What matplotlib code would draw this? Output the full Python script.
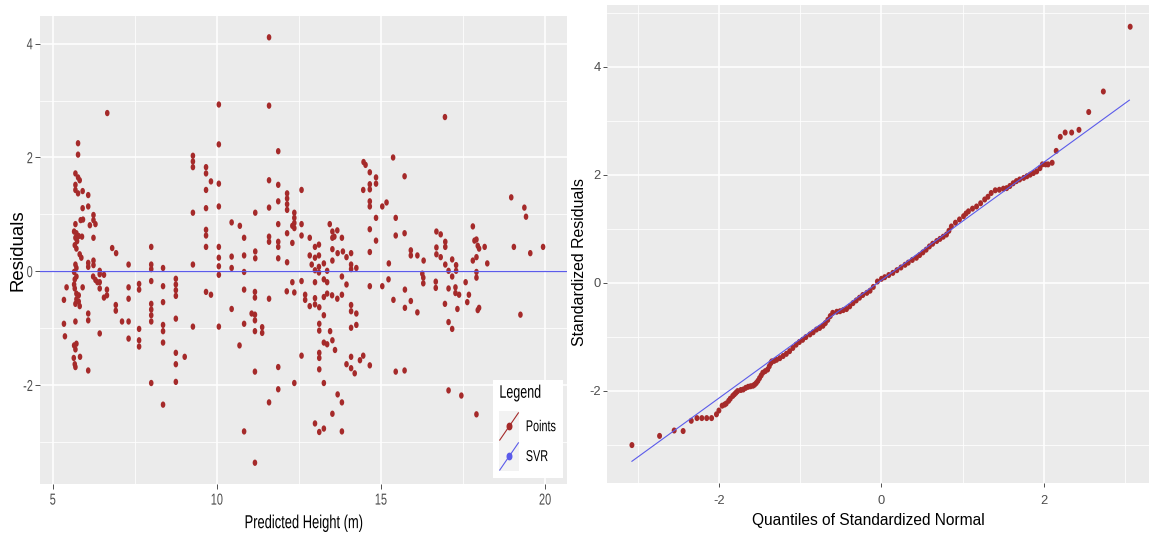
import matplotlib
matplotlib.use("Agg")
import matplotlib.pyplot as plt
import numpy as np
from matplotlib.legend_handler import HandlerBase
from matplotlib.lines import Line2D
from matplotlib.patches import Rectangle
from matplotlib.path import Path
from matplotlib.patheffects import AbstractPathEffect
from matplotlib.transforms import Affine2D

plt.rcParams['font.family'] = ['Liberation Sans', 'DejaVu Sans']
plt.rcParams['axes.unicode_minus'] = False

# ---- left panel: residuals vs predicted height ----
pred_height = [
    5.77, 5.77, 5.69, 5.77, 5.82, 5.69, 5.69, 5.77, 5.91, 6.08, 5.91, 6.08, 5.85, 5.92, 5.69,
    6.24, 6.24, 6.30, 6.13, 5.65, 5.72, 5.79, 5.89, 5.69, 5.74, 5.67, 5.72, 6.24, 5.82, 5.87,
    5.69, 5.72, 6.08, 6.08, 6.24, 6.24, 5.65, 6.43, 6.56, 6.23, 6.81, 6.93, 7.31, 8.00, 8.00,
    8.00, 8.36, 8.75, 9.27, 9.27, 9.27, 9.27, 9.27, 9.67, 9.67, 9.82, 9.67, 9.67, 9.67, 9.67,
    9.67, 10.06, 10.06, 10.06, 10.06, 10.06, 10.06, 10.06,
    11.59, 11.59, 10.06, 6.66, 11.87, 16.95,
    12.14, 12.14, 12.14, 12.14, 11.87, 11.59, 11.17, 12.58, 12.36, 12.36, 12.36, 12.36, 12.30,
    12.58, 11.87, 10.45, 10.70, 10.83, 11.59, 11.59, 11.87, 11.87, 12.14, 12.58, 12.83, 12.30,
    10.45, 10.83, 11.17, 11.17, 10.45, 10.83, 11.87, 12.14, 12.99, 13.11, 12.83, 12.99, 13.11,
    12.89, 12.99, 13.11, 13.11, 13.26, 13.36, 13.44, 13.52, 13.52, 13.67, 13.58, 13.81, 13.52,
    13.52, 13.68, 13.84, 13.95, 14.09, 14.09, 14.09, 14.25, 13.81, 14.47, 14.53, 14.66, 14.46,
    14.66, 14.66, 14.85, 14.85, 14.66, 14.66, 15.04, 15.17, 14.85, 14.66, 14.85, 14.66, 15.24,
    11.59, 11.87,
    15.37, 15.72, 15.45, 15.45, 15.72, 15.91, 15.91, 16.11, 16.30, 16.26, 16.69, 16.82, 16.96,
    16.96, 16.69, 16.69, 16.82, 16.96, 17.17, 17.29, 17.29, 17.06, 17.17, 17.80, 17.85, 17.91,
    17.95, 17.99, 18.16, 17.91, 17.80, 18.24, 17.91, 17.91, 18.97, 19.37, 19.42, 19.05, 19.55,
    19.94,
    5.72, 6.43, 6.30, 6.36, 6.43, 6.43, 5.67, 5.65, 5.67, 5.42, 5.91, 5.72, 5.79, 5.72, 5.79,
    5.69, 5.82, 5.34, 6.65, 6.65, 6.56, 6.92, 6.92, 6.08, 6.08, 5.69, 5.34, 5.37, 6.43, 5.65,
    5.69, 5.72, 5.64, 5.83, 5.67, 5.69, 6.08, 7.31, 7.31, 7.11, 7.31, 7.31, 7.63, 7.63, 7.63,
    7.63, 7.63, 8.00, 8.00, 8.00, 8.00, 8.00, 8.00, 8.36, 8.36, 8.36, 8.36, 8.36, 8.36, 8.75,
    8.75, 8.75, 8.75, 8.75, 8.75, 8.75, 9.02, 9.27, 9.67, 9.82, 10.06,
    10.45, 10.69, 10.83, 10.83, 10.83, 11.06, 11.16, 11.16, 11.16, 11.16, 11.16, 11.16, 11.16,
    11.38, 11.38, 11.59, 11.59, 11.87, 11.87, 12.13,
    12.30, 12.58, 12.36, 12.69, 12.69, 12.83, 12.99, 12.99, 12.99, 13.12, 13.26, 13.26, 13.26,
    13.36, 13.36, 13.51, 13.67, 13.81, 13.95, 14.09, 14.09, 14.25, 14.09, 14.25, 13.12, 13.12,
    13.45, 13.26, 13.36, 13.52, 13.60, 13.12, 13.12, 13.12, 12.58, 12.36, 13.26, 13.68, 13.81,
    13.52, 13.95, 14.09, 14.09, 14.20, 14.36, 14.46, 14.66, 14.66, 15.04, 15.23,
    12.99, 13.12, 13.26, 13.81, 17.06, 17.45, 17.91, 15.45, 15.72, 17.06, 17.17, 19.25, 17.95,
    17.99, 17.33, 17.63, 17.68, 16.95, 15.73, 15.73, 15.91, 16.11, 15.38, 17.06, 17.27, 17.27,
    17.38, 17.58, 16.29, 16.29, 16.67, 16.67,
]
residuals = [
    2.25, 2.05, 1.72, 1.65, 1.60, 1.52, 1.43, 1.37, 1.41, 1.34, 1.11, 1.14, 0.90, 0.91, 0.83,
    0.99, 0.90, 0.83, 0.81, 0.70, 0.67, 0.62, 0.61, 0.59, 0.53, 0.46, 0.40, 0.59, 0.30, 0.24,
    0.12, 0.06, 0.15, 0.08, 0.19, 0.11, -0.01, 0.01, -0.06, -0.09, 0.41, 0.32, 0.12, 0.43, 0.12,
    0.04, 0.06, -0.13, 2.03, 1.93, 1.83, 1.03, 0.12, 1.83, 1.72, 1.58, 1.43, 1.11, 0.73, 0.63,
    0.43, 2.23, 1.54, 1.14, 0.43, 0.24, 0.09, -0.06,
    4.11, 2.91, 2.93, 2.78, 2.11, 2.71,
    1.37, 1.28, 1.18, 1.08, 1.23, 1.12, 1.03, 1.43, 1.03, 0.94, 0.85, 0.76, 0.80,
    0.83, 0.83, 0.86, 0.80, 0.59, 0.61, 0.52, 0.52, 0.43, 0.67, 0.63, 0.59, 0.50,
    0.26, 0.28, 0.35, 0.23, 0.06, -0.01, 0.23, 0.16, 0.43, 0.47, 0.28, 0.24, 0.28,
    0.12, 0.02, -0.02, 0.08, 0.14, 0.01, 0.83, 0.70, 0.59, 0.72, 0.61, 0.59, 0.39,
    0.19, 0.32, 0.35, 0.25, 0.32, 0.12, 0.04, 0.06, -0.09, 1.92, 1.87, 1.74, 1.43,
    1.53, 1.44, 1.65, 1.54, 1.23, 1.14, 1.14, 1.21, 0.94, 0.74, 0.54, 0.34, 0.14,
    1.60, 1.52,
    2.00, 1.67, 0.94, 0.63, 0.67, 0.37, 0.28, 0.28, 0.19, -0.04, 0.70, 0.65, 0.52,
    0.43, 0.42, 0.30, 0.25, 0.12, 0.21, 0.11, 0.01, 0.01, -0.09, 0.79, 0.54, 0.56,
    0.45, 0.40, 0.43, 0.25, 0.19, 0.14, -0.01, -0.11, 1.30, 1.12, 0.96, 0.43, 0.32,
    0.43,
    -0.09, -0.05, -0.15, -0.19, -0.19, -0.30, -0.14, -0.23, -0.30, -0.28, -0.28, -0.39, -0.42, -0.49, -0.53,
    -0.57, -0.61, -0.50, -0.32, -0.42, -0.46, -0.59, -0.69, -0.74, -0.86, -0.88, -0.92, -1.14, -1.09, -1.30,
    -1.37, -1.27, -1.52, -1.50, -1.63, -1.68, -1.74, -0.28, -0.48, -0.88, -0.88, -1.18, -0.22, -0.32, -1.21,
    -1.32, -1.01, -0.17, -0.57, -0.67, -0.77, -0.88, -1.96, -0.26, -0.54, -0.94, -1.05, -1.25, -2.34, -0.23,
    -0.33, -0.43, -0.83, -1.43, -1.63, -1.94, -1.50, -0.97, -0.36, -0.41, -0.97,
    -0.66, -1.30, -0.32, -0.92, -2.81, -0.74, -0.76, -0.86, -0.36, -0.46, -1.05, -1.76, -3.36,
    -0.98, -1.08, -0.48, -2.30, -1.68, -2.07, -0.35,
    -0.19, -0.17, -0.37, -0.41, -0.50, -0.61, -0.19, -0.47, -0.58, -0.63, -0.14, -0.45, -0.77,
    -0.19, -0.39, -0.42, -0.48, -0.41, -0.23, -0.59, -0.70, -0.74, -0.99, -0.94, -0.92, -1.04,
    -1.05, -1.25, -1.28, -1.21, -1.38, -1.43, -1.52, -1.72, -1.48, -1.96, -1.96, -2.16, -2.30,
    -2.50, -1.63, -1.50, -1.70, -1.79, -1.56, -1.48, -1.65, -0.26, -0.26, -0.14,
    -2.67, -2.82, -2.76, -2.81, -2.09, -2.18, -2.51, -1.76, -1.74, -0.89, -1.01, -0.76, -0.68,
    -0.64, -0.66, -0.54, -0.41, -0.57, -0.32, -0.64, -0.52, -0.72, -0.50, -0.30, -0.28, -0.38,
    -0.41, -0.19, -0.11, -0.21, -0.18, -0.29,
]

# ---- right panel: normal QQ of standardized residuals ----
qq_theoretical = [
    -3.07, -2.73, -2.55, -2.44, -2.34, -2.27, -2.21, -2.15, -2.09, -2.03, -2.00, -1.96, -1.93,
    -1.91, -1.88, -1.86, -1.83, -1.81, -1.79, -1.77, -1.73, -1.70, -1.67, -1.64, -1.61, -1.58,
    -1.56, -1.54, -1.52, -1.50, -1.48, -1.46, -1.43, -1.40, -1.38, -1.36, -1.35, -1.32, -1.29,
    -1.25, -1.21, -1.17, -1.13, -1.09, -1.05, -1.01, -0.97, -0.93, -0.88, -0.84, -0.80, -0.76,
    -0.72, -0.69, -0.66, -0.63, -0.60, -0.55, -0.51, -0.47, -0.43, -0.39, -0.35, -0.31, -0.27,
    -0.23, -0.18, -0.14, -0.10, -0.05, 0.00, 0.04, 0.09, 0.14, 0.19, 0.24, 0.29, 0.33, 0.38,
    0.43, 0.47, 0.51, 0.55, 0.59, 0.63, 0.68, 0.72, 0.76, 0.80, 0.83, 0.86, 0.91, 0.96, 1.01,
    1.04, 1.07, 1.12, 1.17, 1.22, 1.27, 1.31, 1.35, 1.40, 1.45, 1.50, 1.54, 1.58, 1.62, 1.66,
    1.70, 1.75, 1.79, 1.83, 1.87, 1.91, 1.95, 1.98, 2.02, 2.05, 2.10, 2.15, 2.20, 2.26, 2.34,
    2.43, 2.55, 2.73, 3.06,
]
qq_standardized = [
    -3.01, -2.84, -2.74, -2.75, -2.56, -2.51, -2.51, -2.51, -2.51, -2.44, -2.37, -2.28, -2.26,
    -2.24, -2.19, -2.15, -2.10, -2.07, -2.04, -2.01, -1.99, -1.98, -1.95, -1.93, -1.92, -1.91,
    -1.89, -1.86, -1.82, -1.77, -1.72, -1.67, -1.64, -1.61, -1.55, -1.49, -1.46, -1.45, -1.43,
    -1.40, -1.36, -1.32, -1.27, -1.21, -1.15, -1.10, -1.06, -1.01, -0.96, -0.92, -0.87, -0.84,
    -0.80, -0.75, -0.69, -0.62, -0.56, -0.54, -0.53, -0.51, -0.49, -0.44, -0.38, -0.33, -0.28,
    -0.23, -0.19, -0.15, -0.08, 0.02, 0.07, 0.10, 0.14, 0.18, 0.23, 0.28, 0.33, 0.37, 0.42,
    0.46, 0.51, 0.56, 0.61, 0.67, 0.72, 0.77, 0.81, 0.85, 0.89, 0.96, 1.04, 1.11, 1.17, 1.23,
    1.28, 1.32, 1.37, 1.41, 1.47, 1.54, 1.59, 1.66, 1.71, 1.72, 1.74, 1.75, 1.79, 1.84, 1.88,
    1.91, 1.94, 1.97, 2.00, 2.03, 2.06, 2.12, 2.19, 2.19, 2.19, 2.22, 2.44, 2.70, 2.78, 2.78,
    2.83, 3.16, 3.54, 4.74,
]
qq_line_x = [-3.07, 3.05]
qq_line_y = [-3.31, 3.38]

POINT_COLOR = '#A52A2A'
LINE_COLOR = '#5B5BEA'
TALL = 1.45   # the left panel's text looks squeezed sideways, so stretch it up instead


class Reshape(AbstractPathEffect):
    # rescale the glyph outlines around one edge of the ink box
    def __init__(self, sx=1.0, sy=1.0, ha='center', va='center'):
        super().__init__()
        self.sx, self.sy, self.ha, self.va = sx, sy, ha, va

    def draw_path(self, renderer, gc, tpath, affine, rgbFace=None):
        ext = tpath.get_extents()
        cx = {'left': ext.x0, 'right': ext.x1, 'center': (ext.x0 + ext.x1) / 2}[self.ha]
        cy = {'top': ext.y1, 'bottom': ext.y0, 'center': (ext.y0 + ext.y1) / 2}[self.va]
        t = Affine2D().translate(-cx, -cy).scale(self.sx, self.sy).translate(cx, cy) + affine
        renderer.draw_path(gc, tpath, t, rgbFace)


def ellipse(ratio):
    t = np.linspace(0, 2 * np.pi, 41)
    return Path(np.column_stack([ratio * np.cos(t), np.sin(t)]), closed=True)


DOT_LEFT = ellipse(0.72)
DOT_RIGHT = ellipse(0.82)


class DiagonalKey(HandlerBase):
    # ggplot style key: grey square, diagonal line, dot in the middle
    def create_artists(self, legend, orig, xdescent, ydescent, width, height, fontsize, trans):
        x0, y0 = -xdescent, -ydescent
        bg = Rectangle((x0, y0), width, height, facecolor='#F2F2F2', edgecolor='none', transform=trans)
        ln = Line2D([x0 + 0.5, x0 + width - 0.5], [y0 + 1, y0 + height - 1],
                    color=orig.get_color(), lw=0.8, transform=trans)
        pt = Line2D([x0 + width / 2], [y0 + height / 2], marker=DOT_LEFT, ms=4.6, ls='none',
                    color=orig.get_color(), transform=trans)
        return [bg, ln, pt]


def gg_style(ax, xmajor, xminor, ymajor, yminor, labelsize, xpad, ypad, ticklen):
    ax.set_facecolor('#EBEBEB')
    for s in ax.spines.values():
        s.set_visible(False)
    ax.set_xticks(xmajor)
    ax.set_xticks(xminor, minor=True)
    ax.set_yticks(ymajor)
    ax.set_yticks(yminor, minor=True)
    ax.grid(True, which='major', color='white', lw=1.1)
    ax.grid(True, which='minor', color='white', lw=0.55)
    ax.set_axisbelow(True)
    ax.tick_params(which='major', length=ticklen, width=0.6, color='#333333',
                   labelcolor='#4D4D4D', labelsize=labelsize)
    ax.tick_params(axis='x', pad=xpad)
    ax.tick_params(axis='y', pad=ypad)
    ax.tick_params(which='minor', length=0)


def expand(vals, frac=0.05):
    lo, hi = min(vals), max(vals)
    pad = (hi - lo) * frac
    return lo - pad, hi + pad


fig = plt.figure(figsize=(11.49, 5.33), dpi=100)

# left
ax1 = fig.add_axes([0.0348, 0.0919, 0.4587, 0.878])
gg_style(ax1, [5, 10, 15, 20], [7.5, 12.5, 17.5], [-2, 0, 2, 4], [-3, -1, 1, 3],
         labelsize=7.9, xpad=3.2, ypad=1.8, ticklen=3.4)
ax1.scatter(pred_height, residuals, s=21, marker=DOT_LEFT, color=POINT_COLOR,
            edgecolors='none', zorder=3)
ax1.axhline(0, color=LINE_COLOR, lw=0.9, zorder=4)
ax1.set_xlim(*expand(pred_height))
ax1.set_ylim(*expand(residuals))
ax1.set_xlabel('Predicted Height (m)', fontsize=9.3)
ax1.xaxis.set_label_coords(0.5, -0.066)
ax1.xaxis.label.set_path_effects([Reshape(sy=TALL, va='top')])
ax1.set_ylabel('Residuals', fontsize=13.4)
ax1.yaxis.set_label_coords(-0.026, 0.5)
for lbl in ax1.get_xticklabels():
    lbl.set_path_effects([Reshape(sy=TALL, va='top')])
for lbl in ax1.get_yticklabels():
    lbl.set_path_effects([Reshape(sy=TALL, va='center')])

h_pts = Line2D([], [], color=POINT_COLOR)
h_svr = Line2D([], [], color=LINE_COLOR)
leg = ax1.legend([h_pts, h_svr], ['Points', 'SVR'], title='Legend',
                 handler_map={Line2D: DiagonalKey()},
                 loc='lower right', bbox_to_anchor=(0.992, 0.013),
                 frameon=True, fancybox=False, framealpha=1, edgecolor='white',
                 fontsize=7.8, title_fontsize=12.0, handlelength=1.85, handleheight=3.88,
                 labelspacing=0.0, handletextpad=0.62, borderpad=0.6, borderaxespad=0,
                 alignment='left')
leg.get_frame().set_linewidth(0)
leg._legend_box.sep = 7.5   # gap between the title and the keys
leg.get_title().set_path_effects([Reshape(sx=0.75, sy=1.09, ha='left', va='bottom')])
for txt in leg.get_texts():
    txt.set_path_effects([Reshape(sy=TALL, va='center')])

# right
ax2 = fig.add_axes([0.5283, 0.0938, 0.477, 0.8968])
gg_style(ax2, [-2, 0, 2], [-3, -1, 1, 3], [-2, 0, 2, 4], [-3, -1, 1, 3, 5],
         labelsize=9.3, xpad=5.5, ypad=1.5, ticklen=3.0)
ax2.scatter(qq_theoretical, qq_standardized, s=19, marker=DOT_RIGHT, color=POINT_COLOR,
            edgecolors='none', zorder=3)
ax2.plot(qq_line_x, qq_line_y, color=LINE_COLOR, lw=0.8, zorder=4)
ax2.set_xlim(*expand(qq_theoretical))
ax2.set_ylim(*expand(qq_standardized + qq_line_y))
ax2.set_xlabel('Quantiles of Standardized Normal', fontsize=11.2)
ax2.xaxis.set_label_coords(0.476, -0.062)
ax2.set_ylabel('Standardized Residuals', fontsize=11.4)
ax2.yaxis.set_label_coords(-0.036, 0.463)

fig.savefig('out.png', dpi=100)
